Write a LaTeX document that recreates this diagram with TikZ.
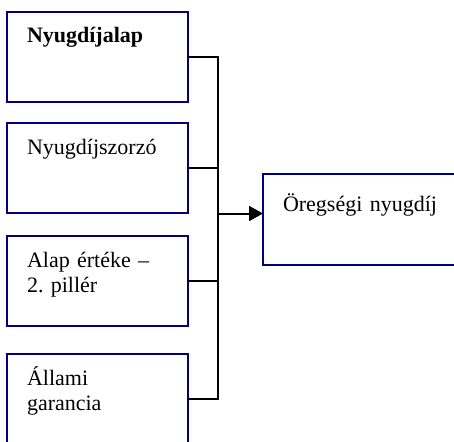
\documentclass[tikz,border=0pt]{standalone}
\usepackage{fontspec}
\setmainfont{Liberation Serif}
\usetikzlibrary{arrows.meta,positioning}
\definecolor{boxblue}{RGB}{0,0,128}
\frenchspacing

\begin{document}
\begin{tikzpicture}[
  x=1pt, y=-1pt,
  font=\fontsize{22}{25}\selectfont,
  src/.style={draw=boxblue, line width=2pt, outer sep=0pt, anchor=north west, inner xsep=20pt, inner ysep=0pt, text width=141pt, align=left, text height=31pt, text depth=59pt},
  res/.style={src, text width=220pt, text height=37pt, text depth=54pt},
  conn/.style={line width=2pt},
  arr/.style={conn, -{Triangle[length=14pt,width=15pt]}},
]
  \clip (0,0) rectangle (454,441);

  \node[src] (base) at (7,12) {\textbf{Nyugdíjalap}};
  \node[src] (factor) at (7,123) {Nyugdíjszorzó};
  \node[src] (fund) at (7,236) {Alap értéke --\\2. pillér};
  \node[src] (state) at (7,354) {Állami\\garancia};

  \node[res] (pension) at (263,174) {Öregségi nyugdíj};

  \coordinate (bus) at ([xshift=30pt]base.east);

  \draw[conn] (base.east) -- (base.east -| bus) -- (state.east -| bus) -- (state.east);
  \draw[conn] (factor.east) -- (factor.east -| bus);
  \draw[conn] (fund.east) -- (fund.east -| bus);
  \draw[arr] ([yshift=6pt]pension.west -| bus) -- ([yshift=6pt]pension.west);
\end{tikzpicture}
\end{document}
